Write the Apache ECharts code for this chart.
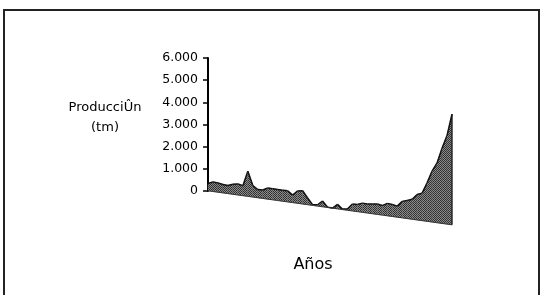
<!DOCTYPE html>
<html>
<head>
<meta charset="utf-8">
<script src="https://cdn.jsdelivr.net/npm/echarts@6/dist/echarts.min.js"></script>
<style>
html, body { margin: 0; padding: 0; background: #fff; }
#main { width: 543px; height: 295px; }
</style>
</head>
<body>
<div id="main"></div>
<script>
// produccion (tm) por año
var produccion = [330, 435, 420, 380, 365, 457, 500, 450, 1130, 520,
                  370, 380, 500, 505, 495, 500, 500, 340, 560, 600,
                  300, 30, 60, 260, 15, 5, 200, 20, 50, 310,
                  320, 415, 405, 440, 470, 430, 560, 540, 500, 745,
                  815, 900, 1150, 1240, 1740, 2300, 2700, 3400, 4000, 5000];
var yTicks = [0, 1000, 2000, 3000, 4000, 5000, 6000];

var chart = echarts.init(document.getElementById('main'));

var n = produccion.length;
var DEPTH = 34; // caida de la base (efecto 3D)

// textura tramada
var pat = document.createElement('canvas');
pat.width = 2; pat.height = 2;
var pctx = pat.getContext('2d');
pctx.fillStyle = '#8e8e8e'; pctx.fillRect(0, 0, 2, 2);
pctx.fillStyle = '#2e2e2e'; pctx.fillRect(0, 0, 1, 1); pctx.fillRect(1, 1, 1, 1);

function fmt(v) {
    return String(v).replace(/\B(?=(\d{3})+(?!\d))/g, '.');
}

function renderItem(params, api) {
    var i = api.value(0);
    if (i >= n - 1) return;
    var s0 = DEPTH * i / (n - 1);
    var s1 = DEPTH * (i + 1) / (n - 1);
    var p0 = api.coord([i, produccion[i]]);
    var p1 = api.coord([i + 1, produccion[i + 1]]);
    var b0 = api.coord([i, 0]);
    var b1 = api.coord([i + 1, 0]);
    var top0 = [p0[0], p0[1] + s0], top1 = [p1[0], p1[1] + s1];
    var bot0 = [b0[0], b0[1] + s0], bot1 = [b1[0], b1[1] + s1];
    var children = [{
        type: 'polygon',
        shape: { points: [top0, top1, bot1, bot0] },
        style: { fill: { image: pat, repeat: 'repeat' }, stroke: '#5e5e5e', lineWidth: 0.4 }
    }, {
        type: 'line',
        shape: { x1: top0[0], y1: top0[1], x2: top1[0], y2: top1[1] },
        style: { stroke: '#111', lineWidth: 1.5 }
    }, {
        type: 'line',
        shape: { x1: bot0[0], y1: bot0[1], x2: bot1[0], y2: bot1[1] },
        style: { stroke: '#333', lineWidth: 1 }
    }];
    if (i === n - 2) {
        children.push({
            type: 'line',
            shape: { x1: top1[0], y1: top1[1], x2: bot1[0], y2: bot1[1] },
            style: { stroke: '#111', lineWidth: 1.2 }
        });
    }
    return { type: 'group', children: children };
}

chart.setOption({
    animation: false,
    backgroundColor: '#fff',
    grid: [
        { left: 208, top: 58, width: 244, height: 133 },
        { left: 208, top: 58, width: 244, height: 166 }
    ],
    xAxis: [
        { gridIndex: 0, type: 'value', show: false, min: 0, max: 1 },
        { gridIndex: 1, type: 'value', show: false, min: 0, max: n - 1 }
    ],
    yAxis: [{
        gridIndex: 0, type: 'value', min: 0, max: 6000, interval: 1000,
        axisLine: { show: true, lineStyle: { color: '#000', width: 2 } },
        axisTick: { show: true, length: 5, lineStyle: { color: '#000', width: 1.5 } },
        splitLine: { show: false },
        axisLabel: {
            margin: 10, color: '#000', fontFamily: 'DejaVu Sans', fontSize: 12.5,
            formatter: function (v) { return yTicks.indexOf(v) >= 0 ? fmt(v) : ''; }
        }
    }, {
        gridIndex: 1, type: 'value', min: -1500, max: 6000, show: false
    }],
    series: [{
        type: 'custom',
        xAxisIndex: 1,
        yAxisIndex: 1,
        renderItem: renderItem,
        data: produccion.map(function (v, i) { return [i, v]; }),
        silent: true
    }],
    graphic: [{
        type: 'rect',
        shape: { x: 4, y: 10, width: 535, height: 292 },
        style: { fill: null, stroke: '#222', lineWidth: 2 }
    }, {
        type: 'text', x: 105, y: 108,
        style: { text: 'ProducciÛn', fill: '#000', font: '13px "DejaVu Sans"', textAlign: 'center', textVerticalAlign: 'middle' }
    }, {
        type: 'text', x: 105, y: 128,
        style: { text: '(tm)', fill: '#000', font: '13px "DejaVu Sans"', textAlign: 'center', textVerticalAlign: 'middle' }
    }, {
        type: 'text', x: 313, y: 265,
        style: { text: 'Años', fill: '#000', font: '16px "DejaVu Sans"', textAlign: 'center', textVerticalAlign: 'middle' }
    }]
});

window.addEventListener('resize', function () {
    chart.resize();
});
</script>
</body>
</html>
